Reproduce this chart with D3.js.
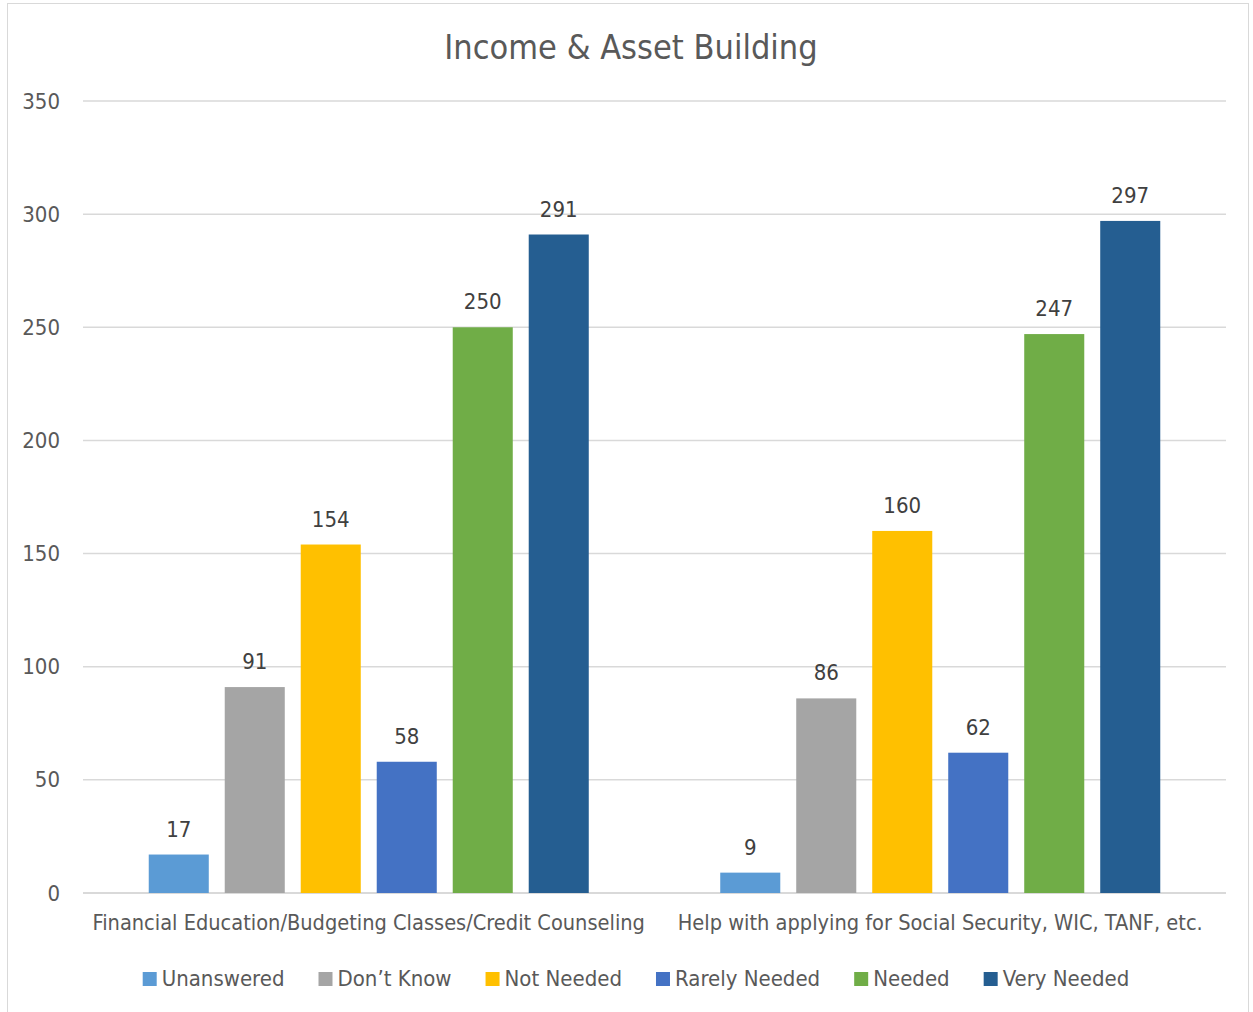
<!DOCTYPE html>
<html>
<head>
<meta charset="utf-8">
<script src="https://cdn.jsdelivr.net/npm/d3@7"></script>
<style>
  body { margin: 0; background: #fff; }
  svg text { font-family: "Liberation Sans Narrow", "DejaVu Sans Condensed", "Open Sans", sans-serif; }
</style>
</head>
<body>
<svg id="chart" width="1253" height="1012"></svg>
<script>
// chart data
var categories = ["Financial Education/Budgeting Classes/Credit Counseling",
                  "Help with applying for Social Security, WIC, TANF, etc."];
var seriesNames = ["Unanswered", "Don\u2019t Know", "Not Needed", "Rarely Needed", "Needed", "Very Needed"];
var seriesColors = ["#5B9BD5", "#A5A5A5", "#FFC000", "#4472C4", "#70AD47", "#255E91"];
var unanswered = [17, 9];
var dontKnow = [91, 86];
var notNeeded = [154, 160];
var rarelyNeeded = [58, 62];
var needed = [250, 247];
var veryNeeded = [291, 297];
var yTicks = [0, 50, 100, 150, 200, 250, 300, 350];

var seriesValues = [unanswered, dontKnow, notNeeded, rarelyNeeded, needed, veryNeeded];

var width = 1253, height = 1012;
var margin = { top: 101, right: 27, bottom: 119, left: 83 };
var svg = d3.select("#chart");

// outer frame
svg.append("rect")
    .attr("x", 7.5).attr("y", 3.5)
    .attr("width", 1241).attr("height", 1030)
    .attr("fill", "none")
    .attr("stroke", "#D9D9D9");

var x0 = d3.scaleBand()
    .domain(categories)
    .range([margin.left, width - margin.right]);

var x1 = d3.scaleBand()
    .domain(seriesNames)
    .range([0, x0.bandwidth()])
    .paddingInner(0.21)
    .paddingOuter(0.865);

var y = d3.scaleLinear()
    .domain([0, 350])
    .range([height - margin.bottom, margin.top]);

// gridlines
svg.append("g")
    .selectAll("line")
    .data(yTicks)
    .enter().append("line")
    .attr("x1", margin.left)
    .attr("x2", width - margin.right)
    .attr("y1", function (d) { return y(d); })
    .attr("y2", function (d) { return y(d); })
    .attr("stroke", "#D9D9D9")
    .attr("stroke-width", function (d) { return d === 0 ? 2 : 1.5; });

// y axis labels
var yAxis = d3.axisLeft(y).tickValues(yTicks).tickSize(0).tickPadding(23);
svg.append("g")
    .attr("transform", "translate(" + margin.left + ",0)")
    .call(yAxis)
    .call(function (g) { g.select(".domain").remove(); })
    .selectAll("text")
    .attr("fill", "#595959")
    .style("font-size", "22px");

// bars
var groups = svg.append("g")
    .selectAll("g")
    .data(categories)
    .enter().append("g")
    .attr("transform", function (d) { return "translate(" + x0(d) + ",0)"; });

groups.selectAll("rect")
    .data(function (d, i) {
        return seriesNames.map(function (s, j) {
            return { name: s, value: seriesValues[j][i], color: seriesColors[j] };
        });
    })
    .enter().append("rect")
    .attr("x", function (d) { return x1(d.name); })
    .attr("width", x1.bandwidth())
    .attr("y", function (d) { return y(d.value); })
    .attr("height", function (d) { return y(0) - y(d.value); })
    .attr("fill", function (d) { return d.color; });

// data labels
groups.selectAll("text")
    .data(function (d, i) {
        return seriesNames.map(function (s, j) {
            return { name: s, value: seriesValues[j][i] };
        });
    })
    .enter().append("text")
    .attr("x", function (d) { return x1(d.name) + x1.bandwidth() / 2; })
    .attr("y", function (d) { return y(d.value) - 18; })
    .attr("text-anchor", "middle")
    .attr("fill", "#404040")
    .style("font-size", "22px")
    .text(function (d) { return d.value; });

// category labels
var xAxis = d3.axisBottom(x0).tickSize(0).tickPadding(22);
svg.append("g")
    .attr("transform", "translate(0," + y(0) + ")")
    .call(xAxis)
    .call(function (g) { g.select(".domain").remove(); })
    .selectAll("text")
    .attr("fill", "#595959")
    .style("font-size", "21.6px");

// title
svg.append("text")
    .attr("x", 631)
    .attr("y", 59)
    .attr("text-anchor", "middle")
    .attr("fill", "#595959")
    .style("font-size", "34px")
    .text("Income & Asset Building");

// legend
var legend = svg.append("g").attr("class", "legend");
var legendGap = 34;
var items = legend.selectAll("g")
    .data(seriesNames)
    .enter().append("g");

items.append("rect")
    .attr("width", 14).attr("height", 14)
    .attr("y", -14)
    .attr("fill", function (d, i) { return seriesColors[i]; });

items.append("text")
    .attr("x", 19)
    .attr("y", 0)
    .attr("fill", "#595959")
    .style("font-size", "22px")
    .text(function (d) { return d; });

var offset = 0;
var positions = [];
items.each(function () {
    var w = d3.select(this).select("text").node().getComputedTextLength() + 19;
    positions.push(offset);
    offset += w + legendGap;
});
var total = offset - legendGap;
var startX = 636 - total / 2;
items.attr("transform", function (d, i) {
    return "translate(" + (startX + positions[i]) + ",986)";
});
</script>
</body>
</html>
